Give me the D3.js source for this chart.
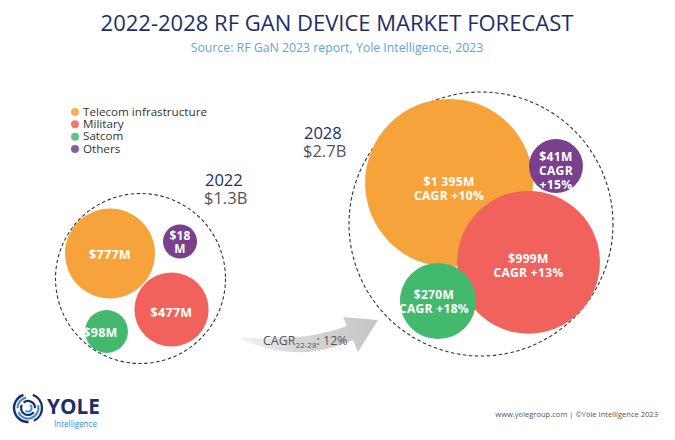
<!DOCTYPE html>
<html>
<head>
<meta charset="utf-8">
<script src="https://cdn.jsdelivr.net/npm/d3@7"></script>
<style>
  html, body { margin: 0; padding: 0; background: #fff; }
  svg { display: block; }
</style>
</head>
<body>
<svg id="chart" width="675" height="440"></svg>
<script>
// ---------------- DATA ----------------
const segments = ["Telecom infrastructure", "Military", "Satcom", "Others"];
const years = ["2022", "2028"];
const yearTotals = ["$1.3B", "$2.7B"];
const values2022 = [777, 477, 98, 18];
const values2028 = [1395, 999, 270, 41];
const segmentCagr = [10, 13, 18, 15];
const totalCagr = 12;
const cagrPeriod = "22-28";
const titleText = "2022-2028 RF GAN DEVICE MARKET FORECAST";
const subtitleText = "Source: RF GaN 2023 report, Yole Intelligence, 2023";
const footerText = "www.yolegroup.com | \u00A9Yole Intelligence 2023";

// ---------------- STYLE / LAYOUT ----------------
const W = 675, H = 440;
const colors = ["#f7a33c", "#f0625b", "#43b96e", "#7a3f8d"];
const navy = "#1e2e6b";
const FONT = "'Open Sans', 'Noto Sans', sans-serif";

const groupLayout = [
  { cx: 140.5, cy: 278.5, R: 85,  r0: 8.5, rMax: 45, rMin: 17, labelX: 205, labelY: 186 },
  { cx: 481,   cy: 224,   R: 132, r0: 2,   rMax: 84, rMin: 27, labelX: 304, labelY: 139 }
];
// bubble centers in unit coordinates of the enclosing dashed circle
const bubbleUnitPos = [
  [[-0.359, -0.294], [0.365, 0.365], [-0.40, 0.624], [0.465, -0.435]],
  [[-0.242, -0.311], [0.36, 0.29], [-0.326, 0.583], [0.568, -0.439]]
];
// label offsets (dx, dy of the text block centre) per group & segment
const labelShift = [
  [[0, 5.5], [0, 7.5], [-6, 5], [0, 5]],
  [[0, 10], [0, 8], [-4, 5], [0, 9]]
];
const drawOrder = [0, 1, 2, 3];

const svg = d3.select("#chart");

function fitWidth(sel, target, base) {
  sel.attr("font-size", base);
  const w = sel.node().getComputedTextLength();
  const s = base * target / w;
  sel.attr("font-size", s);
  return s;
}

// ---------------- TITLE ----------------
const title = svg.append("text")
  .attr("x", 337).attr("y", 31)
  .attr("text-anchor", "middle")
  .attr("font-family", FONT).attr("font-weight", 400)
  .attr("fill", navy).text(titleText);
fitWidth(title, 473, 20);

const sub = svg.append("text")
  .attr("x", 337).attr("y", 52)
  .attr("text-anchor", "middle")
  .attr("font-family", FONT)
  .attr("fill", "#5ba6e2").text(subtitleText);
fitWidth(sub, 293, 11);

// ---------------- LEGEND ----------------
const legendY = d3.scalePoint().domain(segments).range([112, 149]);
const legend = svg.append("g");
const lg = legend.selectAll("g").data(segments).join("g")
  .attr("transform", d => `translate(75,${legendY(d)})`);
lg.append("circle").attr("r", 4).attr("fill", (d, i) => colors[i]).attr("opacity", 0.85);
const lt = lg.append("text").attr("x", 8).attr("y", 3.8)
  .attr("font-family", FONT).attr("font-weight", 500)
  .attr("fill", "#333").text(d => d);
const legSize = fitWidth(d3.select(lt.nodes()[0]), 124, 11);
lt.attr("font-size", legSize);

// ---------------- ARROW ----------------
const defs = svg.append("defs");
const grad = defs.append("linearGradient").attr("id", "arrowGrad")
  .attr("x1", "0%").attr("x2", "100%").attr("y1", "0%").attr("y2", "0%");
grad.append("stop").attr("offset", "0%").attr("stop-color", "#f4f4f4");
grad.append("stop").attr("offset", "45%").attr("stop-color", "#d6d6d6");
grad.append("stop").attr("offset", "100%").attr("stop-color", "#c6c6c6");

const ap = d3.path();
ap.moveTo(237, 337);
ap.quadraticCurveTo(300, 343, 347, 326);
ap.lineTo(343, 317);
ap.lineTo(378, 320);
ap.lineTo(358, 352);
ap.lineTo(353, 340);
ap.quadraticCurveTo(295, 366, 237, 337);
ap.closePath();
svg.append("path").attr("d", ap.toString()).attr("fill", "url(#arrowGrad)");

const cagrText = svg.append("text")
  .attr("x", 263).attr("y", 345)
  .attr("font-family", FONT).attr("font-size", 12.5)
  .attr("fill", "#555");
cagrText.append("tspan").text("CAGR");
cagrText.append("tspan").attr("font-size", 8).attr("dy", 3).text(cagrPeriod);
cagrText.append("tspan").attr("dy", -3).text(": " + totalCagr + "%");

// ---------------- BUBBLE GROUPS ----------------
const fmt = d3.formatLocale({ decimal: ".", thousands: " ", grouping: [3], currency: ["$", ""] }).format("$,");
const allValues = [values2022, values2028];

// measure bubble label font sizes so label widths match the reference
function measureSize(str, target, base, weight) {
  const t = svg.append("text").attr("font-family", FONT).attr("font-weight", weight)
    .attr("letter-spacing", 0.3).text(str);
  const s = fitWidth(t, target, base);
  t.remove();
  return s;
}
const bubbleFontSize = [
  measureSize(fmt(values2022[0]) + "M", 42, 12, 700),
  measureSize("CAGR +" + segmentCagr[0] + "%", 70, 13, 700)
];

allValues.forEach((vals, gi) => {
  const L = groupLayout[gi];
  const x = d3.scaleLinear().domain([-1, 1]).range([L.cx - L.R, L.cx + L.R]);
  const y = d3.scaleLinear().domain([-1, 1]).range([L.cy - L.R, L.cy + L.R]);
  const r = d3.scaleSqrt().domain([0, d3.max(vals)]).range([L.r0, L.rMax]);

  const g = svg.append("g");
  g.append("circle")
    .attr("cx", x(0)).attr("cy", y(0)).attr("r", x(1) - x(0))
    .attr("fill", "none").attr("stroke", "#333").attr("stroke-width", 1.1)
    .attr("stroke-dasharray", "3.5,2.5");

  const nodes = drawOrder.map(i => ({
    i, v: vals[i],
    x: x(bubbleUnitPos[gi][i][0]),
    y: y(bubbleUnitPos[gi][i][1]),
    r: Math.max(L.rMin, r(vals[i]))
  }));

  g.selectAll("circle.b").data(nodes).join("circle").attr("class", "b")
    .attr("cx", d => d.x).attr("cy", d => d.y).attr("r", d => d.r)
    .attr("fill", d => colors[d.i]);

  // labels
  nodes.forEach(d => {
    let lines;
    const val = fmt(d.v) + "M";
    if (gi === 0) {
      lines = d.r < 20 ? [fmt(d.v), "M"] : [val];
    } else {
      lines = d.r < 30 ? [val, "CAGR", "+" + segmentCagr[d.i] + "%"]
                       : [val, "CAGR +" + segmentCagr[d.i] + "%"];
    }
    const lh = gi === 0 ? 13 : 14;
    const sh = labelShift[gi][d.i];
    const t = g.append("text")
      .attr("text-anchor", "middle")
      .attr("font-family", FONT).attr("font-weight", 700)
      .attr("letter-spacing", 0.3)
      .attr("font-size", d.r < 20 ? bubbleFontSize[gi] * 0.95 : bubbleFontSize[gi])
      .attr("fill", "#fff");
    lines.forEach((s, k) => {
      t.append("tspan")
        .attr("x", d.x + sh[0])
        .attr("y", d.y + sh[1] + (k - (lines.length - 1) / 2) * lh)
        .text(s);
    });
  });

  // year & total
  svg.append("text").attr("x", L.labelX).attr("y", L.labelY)
    .attr("font-family", FONT).attr("font-size", 16.5).attr("fill", navy)
    .text(years[gi]);
  svg.append("text").attr("x", L.labelX - 1).attr("y", L.labelY + 18)
    .attr("font-family", FONT).attr("font-size", 16.5).attr("fill", "#555")
    .text(yearTotals[gi]);
});

// ---------------- LOGO ----------------
const logo = svg.append("g").attr("transform", "translate(28,408)");
const rings = [
  { r: 14, w: 2.4, c: navy, segs: [[0.35, 2.7], [3.1, 5.95]] },
  { r: 10.5, w: 2.2, c: "#3a8ddb", segs: [[1.3, 4.3], [4.7, 6.1]] },
  { r: 7, w: 2.2, c: navy, segs: [[2.2, 5.2], [5.6, 7.9]] },
  { r: 3.6, w: 2, c: "#3a8ddb", segs: [[0.6, 3.9]] }
];
const arcGen = d3.arc();
rings.forEach(rg => rg.segs.forEach(s => {
  logo.append("path").attr("d", arcGen({
    innerRadius: rg.r - rg.w / 2, outerRadius: rg.r + rg.w / 2,
    startAngle: s[0], endAngle: s[1]
  })).attr("fill", rg.c);
}));
const yole = svg.append("text").attr("x", 47).attr("y", 414)
  .attr("font-family", FONT).attr("font-weight", 700)
  .attr("fill", navy).text("YOLE");
fitWidth(yole, 53, 22);
const intel = svg.append("text").attr("x", 54).attr("y", 427)
  .attr("font-family", FONT).attr("font-weight", 500)
  .attr("fill", "#3a8ddb").text("Intelligence");
fitWidth(intel, 43, 8.5);

const foot = svg.append("text").attr("x", 658).attr("y", 417)
  .attr("text-anchor", "end")
  .attr("font-family", FONT).attr("fill", "#555").text(footerText);
fitWidth(foot, 163, 8.5);
</script>
</body>
</html>
